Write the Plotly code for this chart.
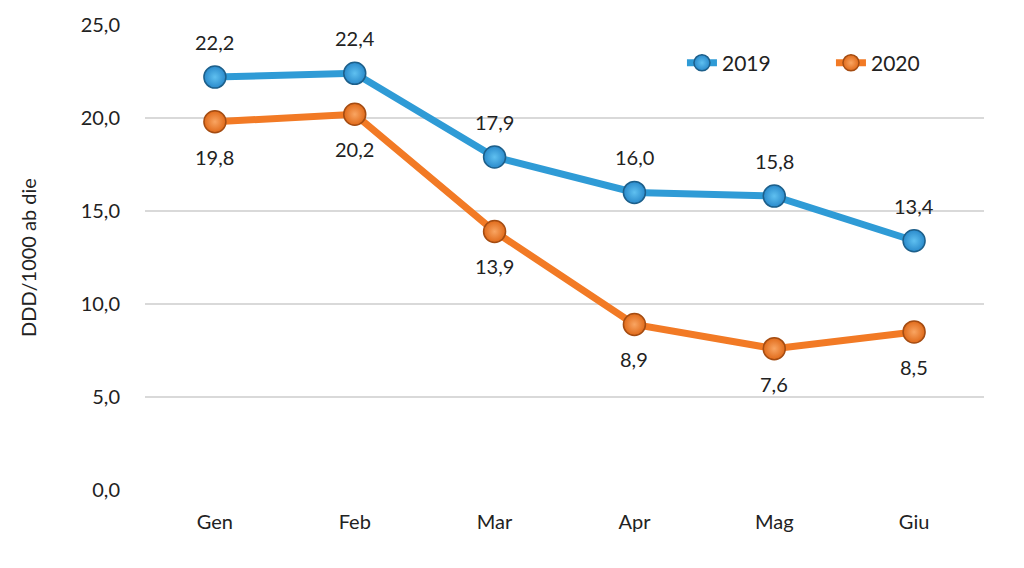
import plotly.graph_objects as go

months = ["Gen", "Feb", "Mar", "Apr", "Mag", "Giu"]
y2019 = [22.2, 22.4, 17.9, 16.0, 15.8, 13.4]
y2020 = [19.8, 20.2, 13.9, 8.9, 7.6, 8.5]
tick_vals = [0, 5, 10, 15, 20, 25]

blue = "#2F9BD6"
orange = "#F27A25"
FONT = "Lato, Open Sans, sans-serif"

def fmt(v):
    return f"{v:.1f}".replace(".", ",")

fig = go.Figure()
fig.add_trace(go.Scatter(
    x=months, y=y2019, name="2019", mode="lines+markers",
    line=dict(color=blue, width=7),
    marker=dict(size=22, color="#2A8ACB", line=dict(color="#1D5F8A", width=1.5),
                gradient=dict(type="radial", color="#5FC0F0")),
))
fig.add_trace(go.Scatter(
    x=months, y=y2020, name="2020", mode="lines+markers",
    line=dict(color=orange, width=7),
    marker=dict(size=22, color="#E06A1A", line=dict(color="#A44C12", width=1.5),
                gradient=dict(type="radial", color="#F9A562")),
))

for m, v in zip(months, y2019):
    fig.add_annotation(x=m, y=v, text=fmt(v), showarrow=False, yshift=35,
                       font=dict(size=20, color="#222222", family=FONT))
for m, v in zip(months, y2020):
    fig.add_annotation(x=m, y=v, text=fmt(v), showarrow=False, yshift=-35,
                       font=dict(size=20, color="#222222", family=FONT))

fig.update_layout(
    width=1024, height=568,
    margin=dict(l=137, r=48, t=17, b=86, autoexpand=False),
    paper_bgcolor="white", plot_bgcolor="white",
    font=dict(family=FONT, size=20, color="#222222"),
    separators=",.",
    showlegend=True,
    legend=dict(orientation="h", x=0.64, y=0.918, xanchor="left", yanchor="middle",
                font=dict(size=21), entrywidth=104, entrywidthmode="pixels",
                bgcolor="rgba(0,0,0,0)"),
    xaxis=dict(range=[-0.5, 5.5], showgrid=False, showline=False, zeroline=False,
               automargin=False,
               ticks="outside", ticklen=14, tickcolor="white", tickfont=dict(size=20)),
    yaxis=dict(range=[0, 25], tickvals=tick_vals, tickformat=".1f",
               automargin=False,
               showgrid=True, gridcolor="#D9D9D9", gridwidth=2, zeroline=False,
               showline=False, ticks="outside", ticklen=20, tickcolor="white",
               tickfont=dict(size=20),
               title=dict(text="DDD/1000 ab die", font=dict(size=20), standoff=38)),
)

fig.write_html("out.html")
